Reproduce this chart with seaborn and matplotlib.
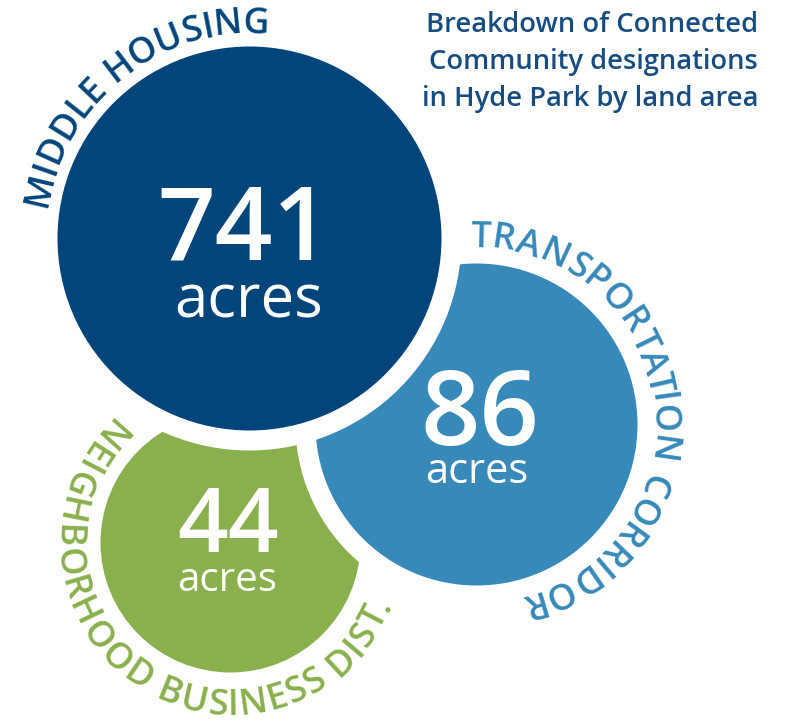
import numpy as np
import pandas as pd
import seaborn as sns
import matplotlib.pyplot as plt
from matplotlib.font_manager import FontProperties

# chart content
labels = ['MIDDLE HOUSING', 'TRANSPORTATION CORRIDOR', 'NEIGHBORHOOD BUSINESS DIST.']
acres = [741, 86, 44]
unit = 'acres'
title_lines = ['Breakdown of Connected', 'Community designations', 'in Hyde Park by land area']

# styling / layout (pixel coordinates, y grows downward)
colors = ['#01457a', '#3689b9', '#8ab04d']
title_color = '#174c80'
centers = [(249, 238), (476, 424), (230, 542)]
radii = [192, 161, 130]
pad = 20
num_pos = [(244, 259), (480, 445), (228, 552)]
num_size = [73, 75, 64]
unit_pos = [(249, 317), (477, 483), (227, 591)]
unit_size = [43, 30, 29]
# baseline radius, start angle, end angle, letters facing inward
arcs = [(205, 171.5, 84.5, False), (177, 92, -77, False), (173, 133, 339, True)]
arc_size = 26

sns.set_style('white')
plt.rcParams['font.family'] = ['Open Sans', 'DejaVu Sans']

W, H, DPI = 786, 723, 100
fig = plt.figure(figsize=(W / DPI, H / DPI), dpi=DPI)
ax = fig.add_axes([0, 0, 1, 1])

circles = pd.DataFrame({'label': labels, 'acres': acres,
                        'x': [c[0] for c in centers], 'y': [c[1] for c in centers],
                        'r': radii, 'color': colors})

# smallest first so the bigger ones sit on top with a white ring
for i in [2, 1, 0]:
    row = circles.iloc[i]
    sns.scatterplot(x=[row.x], y=[row.y], s=(2 * (row.r + pad) * 72 / DPI) ** 2,
                    color='white', linewidth=0, ax=ax)
    sns.scatterplot(x=[row.x], y=[row.y], s=(2 * row.r * 72 / DPI) ** 2,
                    color=row.color, linewidth=0, ax=ax)

ax.set_xlim(0, W)
ax.set_ylim(H, 0)
ax.axis('off')

renderer = fig.canvas.get_renderer()


def text_width(s, fp):
    w, h, d = renderer.get_text_width_height_descent(s, fp, ismath=False)
    return w


def curved_text(s, cx, cy, R, a0, a1, inward, color):
    fp = FontProperties(family=['Open Sans', 'DejaVu Sans'], size=arc_size, weight='semibold')
    pos = [text_width('|' + s[:k] + '|', fp) for k in range(len(s) + 1)]
    total = pos[-1] - pos[0]
    for k, ch in enumerate(s):
        if ch == ' ':
            continue
        t = ((pos[k] + pos[k + 1]) / 2 - pos[0]) / total
        th = np.radians(a0 + (a1 - a0) * t)
        x = cx + R * np.cos(th)
        y = cy - R * np.sin(th)
        rot = np.degrees(th) + (90 if inward else -90)
        ax.text(x, y, ch, fontproperties=fp, color=color, rotation=rot,
                rotation_mode='anchor', ha='center', va='baseline')


for i in range(3):
    cx, cy = centers[i]
    R, a0, a1, inward = arcs[i]
    curved_text(labels[i], cx, cy, R, a0, a1, inward, colors[i])
    ax.text(num_pos[i][0], num_pos[i][1], str(acres[i]), color='white',
            fontsize=num_size[i], fontweight='semibold', ha='center', va='baseline')
    ax.text(unit_pos[i][0], unit_pos[i][1], unit, color='white',
            fontsize=unit_size[i], fontweight='medium', ha='center', va='baseline')

for j, line in enumerate(title_lines):
    ax.text(758, 32 + 37 * j, line, color=title_color, fontsize=19.7,
            fontweight='semibold', ha='right', va='baseline')

fig.savefig('out.png', dpi=DPI)
